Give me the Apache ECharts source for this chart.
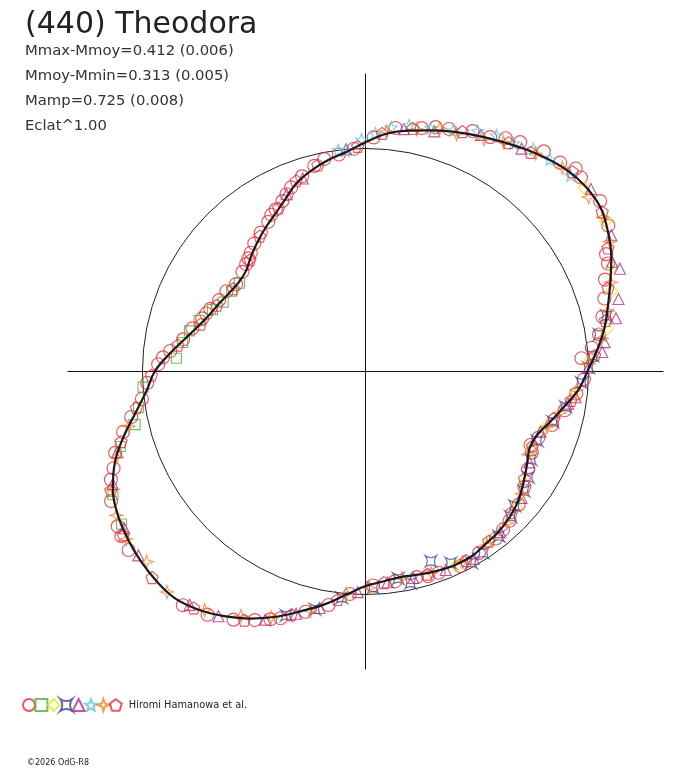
<!DOCTYPE html>
<html>
<head>
<meta charset="utf-8">
<script src="https://cdn.jsdelivr.net/npm/echarts@6/dist/echarts.min.js"></script>
<style>
  html, body { margin: 0; padding: 0; background: #fff; }
  #main { width: 688px; height: 768px; }
</style>
</head>
<body>
<div id="main"></div>
<script>
// Courbe de lumiere polaire : angle = phase en degres, rayon = 1 sur le cercle de reference
const curvePhase = [0, 5, 10, 15, 20, 25, 30, 35, 40, 45, 50, 55, 60, 65, 70, 75, 80, 85, 90, 95,
  100, 105, 110, 115, 120, 125, 130, 135, 140, 145, 150, 155, 160, 165, 170, 175, 180, 185, 190, 195,
  200, 205, 210, 215, 220, 225, 230, 235, 240, 245, 250, 255, 260, 265, 270, 275, 280, 285, 290, 295,
  300, 305, 310, 315, 320, 325, 330, 335, 340, 345, 350, 355, 360];
const curveRadius = [0.994, 1.040, 1.086, 1.125, 1.168, 1.216, 1.255, 1.285, 1.289, 1.277, 1.252, 1.223, 1.194, 1.168, 1.144, 1.119, 1.097, 1.070, 1.028, 0.988,
  0.963, 0.934, 0.900, 0.852, 0.813, 0.784, 0.755, 0.727, 0.700, 0.695, 0.705, 0.723, 0.745, 0.778, 0.825, 0.884, 0.945, 0.985, 1.045, 1.122,
  1.196, 1.250, 1.283, 1.303, 1.318, 1.327, 1.328, 1.304, 1.266, 1.222, 1.170, 1.112, 1.060, 1.005, 0.962, 0.944, 0.935, 0.942, 0.950, 0.956,
  0.955, 0.942, 0.933, 0.918, 0.896, 0.865, 0.836, 0.812, 0.822, 0.860, 0.905, 0.957, 0.994];

// Observations [phase en degres, rayon]
const circlePts = [[3.5,0.97],[6,1.02],[9,1.06],[13,1.09],[17,1.12],[21,1.15],[26,1.20],[31,1.27],[36,1.30],[42,1.30],[47,1.28],[51,1.27],
  [56,1.24],[62,1.19],[66,1.18],[71,1.15],[77,1.12],[83,1.10],[88,1.05],[93,1.00],[97,0.98],[101,0.97],[104,0.95],[108,0.92],
  [112,0.89],[116,0.85],[119,0.83],[123,0.80],[127,0.78],[131,0.76],[134,0.74],[138,0.72],[141,0.71],[146,0.70],[150,0.72],[154,0.73],
  [158,0.75],[162,0.77],[166,0.80],[170,0.83],[174,0.88],[178,0.93],[183,0.98],[187,1.01],[191,1.07],[194,1.12],[198,1.18],[203,1.24],
  [207,1.28],[212,1.31],[217,1.33],[222,1.34],[227,1.34],[232,1.33],[237,1.30],[242,1.26],[246,1.22],[251,1.17],[256,1.11],[261,1.06],
  [266,1.00],[272,0.96],[278,0.95],[284,0.95],[290,0.96],[296,0.97],[302,0.96],[308,0.95],[314,0.93],[319,0.91],[324,0.88],[329,0.85],
  [334,0.83],[339,0.83],[344,0.87],[349,0.91],[354,0.95],[358,0.98],
  [24,1.19],[44,1.31],[59,1.22],[74,1.14],[114,0.87],[121,0.82],[136,0.73],[160,0.76],[176,0.91],[201,1.21],[214,1.32],[230,1.34],
  [249,1.19],[287,0.96],[311,0.94],[336,0.81]];
const squarePts = [[145,0.69],[149,0.70],[154,0.71],[158,0.74],[163,0.78],[167,0.81],[171,0.83],[176,0.85],[184,1.00],[189,1.03],
  [193,1.06],[197,1.15],[206,1.26],[212,1.29]];
const diamondPts = [[3,1.01],[10,1.10],[18,1.16],[23,1.20],[32,1.27],[40,1.28],[295,0.96],[307,0.94],[318,0.91],[325,0.87],
  [335,0.82],[342,0.84],[353,0.94]];
const crossPts = [[1,1.00],[4,1.02],[9,1.06],[13,1.11],[252,1.15],[258,1.09],[264,1.02],[272,0.97],[279,0.94],[282,0.97],[289,0.90],
  [294,0.94],[299,0.98],[303,0.97],[309,0.95],[315,0.92],[318,0.90],[323,0.89],[327,0.87],[332,0.84],[338,0.83],[345,0.87],[350,0.91],[357,0.97]];
const trianglePts = [[1,1.00],[4.7,1.065],[7,1.08],[12,1.148],[16,1.18],[22,1.23],[24,1.21],[29,1.26],[39,1.30],[55,1.22],[64,1.18],
  [74,1.12],[81,1.10],[95,1.00],[108,0.91],[114,0.87],[198,1.17],[204,1.24],[213,1.29],[219,1.31],[226,1.34],[233,1.31],[239,1.28],
  [248,1.20],[254,1.13],[259,1.08],[268,0.99],[276,0.95],[283,0.95],[292,0.96],[300,0.97],[310,0.94],[321,0.90],[331,0.84],[341,0.83],
  [351,0.92],[353,0.949]];
const starPts = [[43.7,1.272],[49,1.26],[53,1.25],[57,1.22],[61,1.21],[65,1.19],[70,1.15],[75,1.13],[80,1.12],[84,1.10],[87.6,1.067],
  [91,1.04],[95.2,0.995],[97,1.00]];
const sparklePts = [[2,1.00],[8,1.07],[14,1.12],[20,1.17],[28,1.24],[33,1.27],[38,1.27],[46,1.27],[52,1.24],[59,1.20],[63,1.17],
  [69,1.14],[73,1.14],[78,1.11],[85,1.08],[193,1.09],[199,1.18],[205,1.25],[210,1.29],[215,1.31],[221,1.30],[228,1.33],[236,1.29],
  [243,1.23],[249,1.18],[257,1.10],[265,1.00],[271,0.97],[280,0.94],[288,0.95],[297,0.96],[305,0.95],[313,0.93],[322,0.89],[333,0.82],
  [343,0.85],[348,0.89],[355,0.95]];
const pentagonPts = [[4,1.03],[12,1.10],[19,1.15],[27,1.22],[34,1.28],[44,1.29],[53,1.23],[58,1.21],[68,1.16],[79,1.11],[86,1.07],
  [92,1.01],[103,0.95],[110,0.91],[118,0.83],[128,0.77],[136,0.72],[148,0.70],[156,0.73],[164,0.77],[172,0.85],[181,0.96],[189,1.04],
  [196,1.14],[205,1.26],[214,1.31],[224,1.33],[234,1.31],[244,1.24],[253,1.14],[263,1.03],[275,0.95],[287,0.95],[298,0.96],[306,0.94],
  [316,0.91],[326,0.86],[336,0.82],[346,0.87],[352,0.93]];

const statLines = ['Mmax-Mmoy=0.412 (0.006)', 'Mmoy-Mmin=0.313 (0.005)', 'Mamp=0.725 (0.008)', 'Eclat^1.00'];

// Formes des symboles
const SYM_CROSS = 'path://M-10,-10 Q0,-3 10,-10 Q3,0 10,10 Q0,3 -10,10 Q-3,0 -10,-10 Z';
const SYM_STAR = 'path://M0,-10 L2.47,-3.4 L9.51,-3.09 L3.99,1.3 L5.88,8.09 L0,4.2 L-5.88,8.09 L-3.99,1.3 L-9.51,-3.09 L-2.47,-3.4 Z';
const SYM_SPARKLE = 'path://M0,-10 L2.5,-2.5 L10,0 L2.5,2.5 L0,10 L-2.5,2.5 L-10,0 L-2.5,-2.5 Z';
const SYM_PENTA = 'path://M0,-10 L9.51,-3.09 L5.88,8.09 L-5.88,8.09 L-9.51,-3.09 Z';

const FONT = 'DejaVu Sans';

function obsSeries(name, pts, symbol, size, color) {
  return {
    name: name,
    type: 'scatter',
    coordinateSystem: 'polar',
    symbol: symbol,
    symbolSize: size,
    itemStyle: { color: 'rgba(0,0,0,0)', borderColor: color, borderWidth: 1.15 },
    data: pts.map(p => [p[1], p[0]]),
    silent: true,
    z: 3
  };
}

const chart = echarts.init(document.getElementById('main'));

const titles = [{
  text: '(440) Theodora', left: 20, top: 5,
  textStyle: { fontFamily: FONT, fontSize: 30, fontWeight: 'normal', color: '#222' }
}];
statLines.forEach((t, i) => {
  titles.push({
    text: t, left: 20, top: 39 + i * 25,
    textStyle: { fontFamily: FONT, fontSize: 14.8, fontWeight: 'normal', color: '#333' }
  });
});
titles.push({
  text: '©2026 OdG-R8', left: 22, top: 754,
  textStyle: { fontFamily: FONT, fontSize: 8, fontWeight: 'normal', color: '#222' }
});

const option = {
  backgroundColor: '#fff',
  animation: false,
  title: titles,
  legend: {
    left: 17, top: 693,
    itemWidth: 12, itemHeight: 12, itemGap: -1.6,
    data: ['c', 's', 'd', 'x', 't', 'st', 'sp', 'p'],
    formatter: name => name === 'p' ? 'Hiromi Hamanowa et al.' : '',
    textStyle: { fontFamily: FONT, fontSize: 9.8, color: '#222', padding: [0, 0, 0, 2] },
    selectedMode: false
  },
  polar: { center: [365.5, 371.5], radius: 298 },
  radiusAxis: {
    type: 'value', min: 0, max: 1.336, interval: 1,
    axisLine: { show: false }, axisTick: { show: false }, axisLabel: { show: false },
    splitLine: { show: true, lineStyle: { color: ['rgba(0,0,0,0)', '#222', 'rgba(0,0,0,0)'], width: 1 } }
  },
  angleAxis: {
    type: 'value', min: 0, max: 360, interval: 90, startAngle: 0, clockwise: false,
    axisLine: { show: false }, axisTick: { show: false }, axisLabel: { show: false },
    splitLine: { show: true, lineStyle: { color: '#111', width: 1 } }
  },
  series: [
    obsSeries('c', circlePts, 'circle', 13, '#ee2a36'),
    obsSeries('s', squarePts, 'rect', 10, '#52b040'),
    obsSeries('d', diamondPts, 'diamond', 12, '#f0e418'),
    obsSeries('x', crossPts, SYM_CROSS, 11, '#34469e'),
    obsSeries('t', trianglePts, 'triangle', 11, '#b0307e'),
    obsSeries('st', starPts, SYM_STAR, 12, '#60c4e0'),
    obsSeries('sp', sparklePts, SYM_SPARKLE, 13, '#f58428'),
    obsSeries('p', pentagonPts, SYM_PENTA, 12, '#ea2c3c'),
    {
      name: 'modele',
      type: 'line',
      coordinateSystem: 'polar',
      data: curvePhase.map((a, i) => [curveRadius[i], a]),
      smooth: 0.4,
      showSymbol: false,
      lineStyle: { color: '#1a1a1a', width: 2.2 },
      silent: true,
      z: 5
    }
  ]
};
chart.setOption(option);
</script>
</body>
</html>
